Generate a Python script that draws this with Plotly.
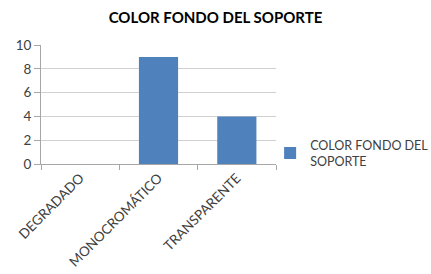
import plotly.graph_objects as go

categories = ["DEGRADADO", "MONOCROMÁTICO", "TRANSPARENTE"]
values = [0, 9, 4]
series_name = "COLOR FONDO DEL<br>SOPORTE"
title_text = "COLOR FONDO DEL SOPORTE"
y_ticks = [0, 2, 4, 6, 8, 10]

font_family = "Lato, 'Open Sans', sans-serif"

fig = go.Figure()
fig.add_trace(go.Bar(
    x=categories, y=values, name=series_name,
    marker=dict(color="#4F81BD", line=dict(width=0)),
    showlegend=True,
))

fig.update_layout(
    width=431, height=274,
    margin=dict(l=41, r=155, t=45, b=110, autoexpand=False),
    paper_bgcolor="white", plot_bgcolor="white",
    font=dict(family=font_family, size=13, color="#404040"),
    title=dict(text="<b>" + title_text + "</b>", x=0.5, xref="container", xanchor="center",
               y=1 - 18/274, yref="container", yanchor="middle",
               font=dict(family=font_family, size=15, color="#000000"), automargin=False),
    bargap=0.5,
    showlegend=True,
    legend=dict(x=0.975, xanchor="left", y=0.09, yanchor="middle",
                font=dict(size=12.5, color="#404040"),
                itemwidth=30, tracegroupgap=0, bgcolor="rgba(0,0,0,0)"),
)
fig.update_xaxes(
    automargin=False,
    showline=True, linecolor="#A6A6A6", linewidth=1,
    ticks="outside", ticklen=5, tickcolor="#A6A6A6", tickson="boundaries",
    tickangle=-45, tickfont=dict(size=13.5, color="#404040"),
    showgrid=False,
)
fig.update_yaxes(
    automargin=False,
    range=[0, 10], tickvals=y_ticks,
    showline=True, linecolor="#A6A6A6", linewidth=1,
    ticks="outside", ticklen=6, tickcolor="#A6A6A6",
    showgrid=True, gridcolor="#D0D0D0", gridwidth=1,
    tickfont=dict(size=13.5, color="#404040"),
    zeroline=False,
)

fig.write_html("out.html", config={"displayModeBar": False},
               post_script="document.body.style.margin='0';document.body.style.padding='0';")
